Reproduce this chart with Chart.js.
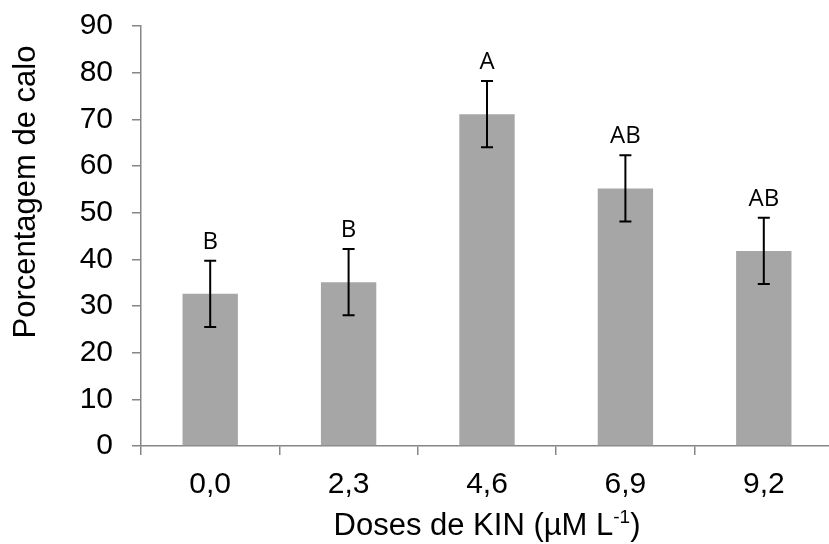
<!DOCTYPE html>
<html>
<head>
<meta charset="utf-8">
<script src="https://cdn.jsdelivr.net/npm/chart.js@4/dist/chart.umd.min.js"></script>
<style>
  html, body { margin: 0; padding: 0; background: #fff; overflow: hidden; }
  #wrap { width: 833px; height: 544px; position: relative; }
</style>
</head>
<body>
<div id="wrap"><canvas id="grafico"></canvas></div>
<script>
// doses de KIN (categorias)
const doses = ['0,0', '2,3', '4,6', '6,9', '9,2'];
// porcentagem de calo (media) e erro
const calo = [32.6, 35.1, 71.1, 55.2, 41.8];
const erro = [7.1, 7.1, 7.1, 7.1, 7.1];
// letras do teste de medias
const letras = ['B', 'B', 'A', 'AB', 'AB'];

const cinza = '#868686';

// barras de erro + letras
const errorBars = {
    id: 'errorBars',
    afterDatasetsDraw(chart) {
        const ctx = chart.ctx;
        const y = chart.scales.y;
        const meta = chart.getDatasetMeta(0);
        ctx.save();
        ctx.strokeStyle = '#000';
        ctx.lineWidth = 2;
        ctx.fillStyle = '#000';
        ctx.font = '24px "Open Sans"';
        ctx.textAlign = 'center';
        ctx.textBaseline = 'alphabetic';
        for (var i = 0; i < calo.length; i++) {
            var x = meta.data[i].x;
            var yTop = y.getPixelForValue(calo[i] + erro[i]);
            var yBot = y.getPixelForValue(calo[i] - erro[i]);
            ctx.beginPath();
            ctx.moveTo(x, yTop); ctx.lineTo(x, yBot);
            ctx.moveTo(x - 6, yTop); ctx.lineTo(x + 6, yTop);
            ctx.moveTo(x - 6, yBot); ctx.lineTo(x + 6, yBot);
            ctx.stroke();
            ctx.fillText(letras[i], x, yTop - 12);
        }
        ctx.restore();
    }
};

// titulos dos eixos (com sobrescrito)
const axisTitles = {
    id: 'axisTitles',
    afterDraw(chart) {
        const ctx = chart.ctx;
        ctx.save();
        ctx.fillStyle = '#000';
        ctx.font = '31px "Liberation Sans", Arial';
        // eixo y
        ctx.save();
        ctx.translate(35, 192);
        ctx.rotate(-Math.PI / 2);
        ctx.textAlign = 'center';
        ctx.textBaseline = 'alphabetic';
        ctx.fillText('Porcentagem de calo', 0, 0);
        ctx.restore();
        // eixo x
        var parte1 = 'Doses de KIN (\u00b5M L';
        var sup = '-1';
        var parte2 = ')';
        ctx.font = '31px "Liberation Sans", Arial';
        var w1 = ctx.measureText(parte1).width;
        var w3 = ctx.measureText(parte2).width;
        ctx.font = '19px "Liberation Sans", Arial';
        var w2 = ctx.measureText(sup).width;
        var x0 = 487 - (w1 + w2 + w3) / 2;
        var base = 535;
        ctx.textAlign = 'left';
        ctx.textBaseline = 'alphabetic';
        ctx.font = '31px "Liberation Sans", Arial';
        ctx.fillText(parte1, x0, base);
        ctx.font = '19px "Liberation Sans", Arial';
        ctx.fillText(sup, x0 + w1, base - 12);
        ctx.font = '31px "Liberation Sans", Arial';
        ctx.fillText(parte2, x0 + w1 + w2, base);
        ctx.restore();
    }
};

new Chart(document.getElementById('grafico'), {
    type: 'bar',
    data: {
        labels: doses,
        datasets: [{
            data: calo,
            backgroundColor: '#a6a6a6',
            borderWidth: 0,
            barPercentage: 0.4,
            categoryPercentage: 1.0
        }]
    },
    options: {
        responsive: true,
        maintainAspectRatio: false,
        animation: false,
        layout: { padding: { top: 26, right: 0, left: 0, bottom: 0 } },
        plugins: { legend: { display: false }, tooltip: { enabled: false } },
        scales: {
            x: {
                offset: true,
                grid: { display: true, drawOnChartArea: false, offset: true, tickLength: 9, color: cinza, lineWidth: 1.5 },
                border: { color: cinza, width: 1.5 },
                ticks: { color: '#000', font: { family: '"Liberation Sans", Arial', size: 30 }, padding: 12 },
                afterFit(scale) { scale.height = 98; scale.paddingLeft = 0; scale.paddingRight = 0; }
            },
            y: {
                min: 0, max: 90,
                ticks: { stepSize: 10, color: '#000', font: { family: '"Liberation Sans", Arial', size: 30 }, padding: 19 },
                grid: { display: true, drawOnChartArea: false, tickLength: 9, color: cinza, lineWidth: 1.5 },
                border: { color: cinza, width: 1.5 },
                afterFit(scale) { scale.width = 141; scale.paddingTop = 0; scale.paddingBottom = 0; }
            }
        }
    },
    plugins: [errorBars, axisTitles]
});
</script>
</body>
</html>
